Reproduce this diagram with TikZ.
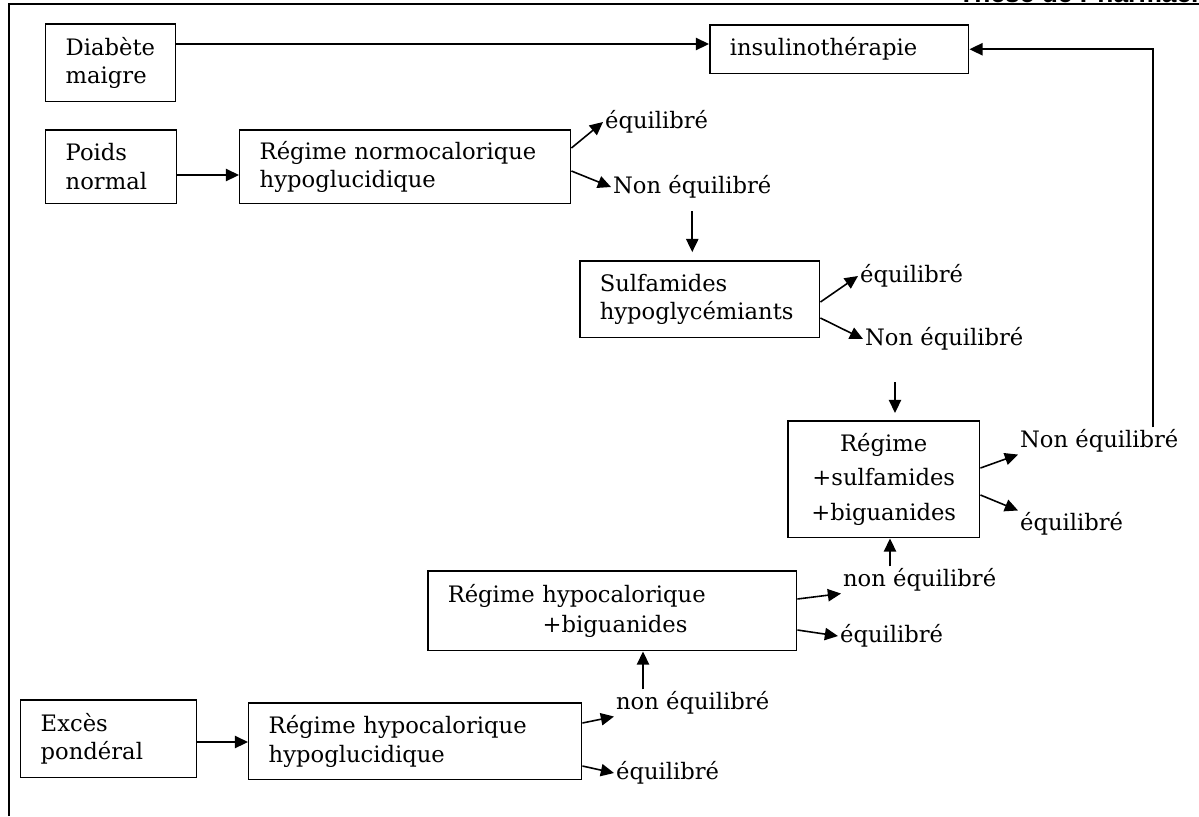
\documentclass[tikz,border=0pt]{standalone}
\usepackage{fontspec}
\setmainfont{DejaVu Serif}
\setsansfont{Liberation Sans}
\usetikzlibrary{arrows.meta}

\begin{document}
\begin{tikzpicture}[x=0.02cm, y=-0.02cm,
  boite/.style={draw, line width=0.85pt, anchor=north west, align=left,
    inner xsep=0.4cm, inner ysep=0pt, font=\fontsize{12.9}{16.2}\selectfont},
  etat/.style={anchor=west, inner sep=1pt, font=\fontsize{12.9}{16}\selectfont},
  fleche/.style={line width=0.9pt, -{Triangle[length=7.5pt,width=7pt]}}]
\useasboundingbox (0,0) rectangle (1199,816);
\clip (0,0) rectangle (1199,816);
%%%% Frame and page header:
\draw[line width=1.5pt] (9,816) -- (9,4) -- (1199,4);
\node[anchor=base west, inner sep=0, font=\sffamily\bfseries\fontsize{15}{18}\selectfont] (entete) at (958,2.5) {Thèse de Pharmacie};

%%%% Boxes:
\node[boite, text width=1.8cm, minimum height=1.56cm] (dia) at (45,23) {Diabète\\maigre};
\node[boite, text width=4.38cm, minimum height=0.98cm] (ins) at (709,24) {insulinothérapie};
\node[boite, text width=1.82cm, minimum height=1.48cm] (poi) at (45,129) {Poids\\normal};
\node[boite, text width=5.82cm, minimum height=1.48cm] (nrm) at (239,129) {Régime normocalorique\\hypoglucidique};
\node[boite, text width=4.0cm, minimum height=1.54cm] (sul) at (579,260) {Sulfamides\\hypoglycémiants};
\node[boite, align=center, text width=3.04cm, minimum height=2.34cm, font=\fontsize{12.9}{19.5}\selectfont] (rsb) at (787,420) {Régime\\+sulfamides\\+biguanides};
\node[boite, text width=6.58cm, minimum height=1.6cm, font=\fontsize{12.9}{17}\selectfont] (rhb) at (427,570) {Régime hypocalorique\\\hspace*{1.9cm}+biguanides};
\node[boite, text width=2.72cm, minimum height=1.56cm] (exc) at (20,699) {Excès\\pondéral};
\node[boite, text width=5.86cm, minimum height=1.54cm] (rhh) at (248,702) {Régime hypocalorique\\hypoglucidique};

%%%% Outcomes:
\node[etat] (n1eq) at (603,122) {équilibré};
\node[etat] (n1ne) at (611,187) {Non équilibré};
\node[etat] (s1eq) at (858,276) {équilibré};
\node[etat] (s1ne) at (863,339) {Non équilibré};
\node[etat] (r3ne) at (1018,441) {Non équilibré};
\node[etat] (r3eq) at (1018,524) {équilibré};
\node[etat] (r2ne) at (841,580) {non équilibré};
\node[etat] (r2eq) at (838,636) {équilibré};
\node[etat] (r1ne) at (614,703) {non équilibré};
\node[etat] (r1eq) at (614,773) {équilibré};

%%%% Arrows:
\draw[fleche] (dia.east |- 0,44) -- (ins.west |- 0,44);
\draw[fleche] (poi.east |- 0,175) -- (nrm.west |- 0,175);
\draw[fleche] (exc.east |- 0,742) -- (rhh.west |- 0,742);

\draw[fleche] (nrm.east |- 0,148) -- (n1eq.west);
\draw[fleche] (nrm.east |- 0,171) -- (n1ne.west);
\draw[fleche, shorten <=6pt, shorten >=4.5pt] (n1ne.south) -- (n1ne.south |- sul.north);

\draw[fleche] (sul.east |- 0,302) -- (s1eq.west);
\draw[fleche] (sul.east |- 0,318) -- (s1ne.west);
\draw[fleche] (895,382) -- (895,413);

\draw[fleche] (rsb.east |- 0,468) -- (r3ne.south west);
\draw[fleche] (rsb.east |- 0,495) -- (r3eq.north west);
\draw[fleche] (r3ne.north -| 1153,0) |- (ins.east);

\draw[fleche] (rhb.east |- 0,599) -- (r2ne.south west);
\draw[fleche] (rhb.east |- 0,630) -- (r2eq.west);
\draw[fleche] (r2ne.north -| 890,0) -- (rsb.south -| 890,0);

\draw[fleche] (rhh.east |- 0,723) -- (r1ne.south west);
\draw[fleche] (rhh.east |- 0,766) -- (r1eq.west);
\draw[fleche] (r1ne.north -| 643,0) -- (rhb.south -| 643,0);
\end{tikzpicture}
\end{document}
